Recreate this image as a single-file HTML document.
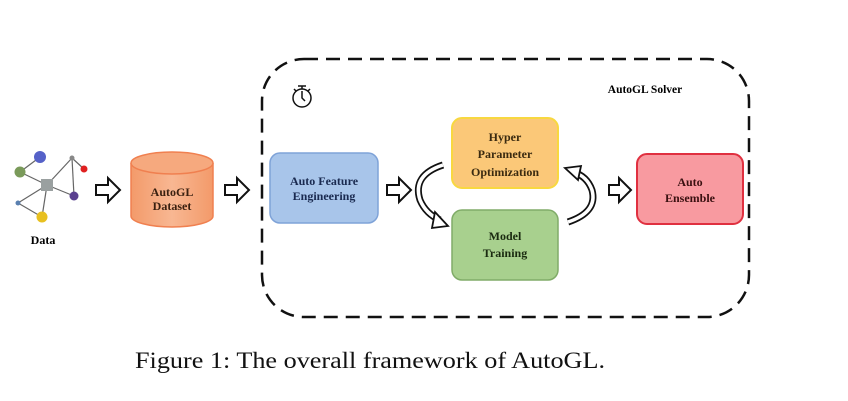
<!DOCTYPE html>
<html><head><meta charset="utf-8"><style>html,body{margin:0;padding:0;background:#fff}svg{display:block}</style></head>
<body>
<svg width="848" height="401" viewBox="0 0 848 401" xmlns="http://www.w3.org/2000/svg">
<defs>
<linearGradient id="cyl" x1="0" x2="1"><stop offset="0" stop-color="#f39a6a"/><stop offset="0.5" stop-color="#f8b792"/><stop offset="1" stop-color="#f39a6a"/></linearGradient>
</defs>
<!-- graph -->
<g stroke="#666" stroke-width="1.2">
<line x1="47" y1="185" x2="72" y2="158"/><line x1="47" y1="185" x2="74" y2="196"/><line x1="47" y1="185" x2="18" y2="203"/><line x1="47" y1="185" x2="42" y2="217"/>
<line x1="72" y1="158" x2="84" y2="169"/><line x1="72" y1="158" x2="74" y2="196"/><line x1="18" y1="203" x2="42" y2="217"/><line x1="20" y1="172" x2="40" y2="157"/><line x1="20" y1="172" x2="47" y2="185"/>
</g>
<rect x="41" y="179" width="12" height="12" fill="#9aa0a0"/>
<circle cx="40" cy="157" r="6" fill="#5561c8"/>
<circle cx="20" cy="172" r="5.5" fill="#7a9a5a"/>
<circle cx="72" cy="158" r="2.5" fill="#888"/>
<circle cx="84" cy="169" r="3.5" fill="#e02020"/>
<circle cx="74" cy="196" r="4.5" fill="#5a4090"/>
<circle cx="18" cy="203" r="2.5" fill="#5a80b0"/>
<circle cx="42" cy="217" r="5.5" fill="#e8c020"/>
<text x="43" y="244" font-family="Liberation Serif" font-weight="bold" font-size="12" text-anchor="middle">Data</text>
<!-- hollow arrows -->
<g fill="#fff" stroke="#111" stroke-width="2">
<path d="M96,185 h12 v-7 l12,12 l-12,12 v-7 h-12 z"/>
<path d="M225,185 h12 v-7 l12,12 l-12,12 v-7 h-12 z"/>
<path d="M387,185 h12 v-7 l12,12 l-12,12 v-7 h-12 z"/>
<path d="M609,185 h10 v-7 l12,12 l-12,12 v-7 h-10 z"/>
</g>
<!-- cylinder -->
<path d="M131,163 v53 a41,11 0 0 0 82,0 v-53" fill="url(#cyl)" stroke="#f08050" stroke-width="1.5"/>
<ellipse cx="172" cy="163" rx="41" ry="11" fill="#f6a97e" stroke="#f08050" stroke-width="1.5"/>
<text font-family="Liberation Serif" font-weight="bold" font-size="12" text-anchor="middle" fill="#3a2010"><tspan x="172" y="196">AutoGL</tspan><tspan x="172" y="210">Dataset</tspan></text>
<!-- dashed solver -->
<rect x="262" y="59" width="487" height="258" rx="42" fill="none" stroke="#111" stroke-width="2.5" stroke-dasharray="14,8"/>
<g stroke="#111" stroke-width="1.5" fill="none"><circle cx="302" cy="98" r="9"/><path d="M302,91 v7 l3,3"/><path d="M298,86 h8 M302,86 v3"/><path d="M294,89 l2,2 M310,89 l-2,2"/></g>
<text x="645" y="93" font-family="Liberation Serif" font-weight="bold" font-size="11.5" text-anchor="middle">AutoGL Solver</text>
<!-- boxes -->
<rect x="270" y="153" width="108" height="70" rx="10" fill="#a8c5ea" stroke="#7fa3d8" stroke-width="1.5"/>
<text font-family="Liberation Serif" font-weight="bold" font-size="12" text-anchor="middle" fill="#1a2a50"><tspan x="324" y="185">Auto Feature</tspan><tspan x="324" y="200">Engineering</tspan></text>
<rect x="452" y="118" width="106" height="70" rx="10" fill="#fbc878" stroke="#f8d840" stroke-width="2"/>
<text font-family="Liberation Serif" font-weight="bold" font-size="12" text-anchor="middle" fill="#3a2a10"><tspan x="505" y="141">Hyper</tspan><tspan x="505" y="158">Parameter</tspan><tspan x="505" y="176">Optimization</tspan></text>
<rect x="452" y="210" width="106" height="70" rx="10" fill="#a8d08e" stroke="#80ac68" stroke-width="1.5"/>
<text font-family="Liberation Serif" font-weight="bold" font-size="12" text-anchor="middle" fill="#1a2a10"><tspan x="505" y="240">Model</tspan><tspan x="505" y="257">Training</tspan></text>
<rect x="637" y="154" width="106" height="70" rx="10" fill="#f89aa0" stroke="#e03040" stroke-width="2"/>
<text font-family="Liberation Serif" font-weight="bold" font-size="12" text-anchor="middle" fill="#3a1010"><tspan x="690" y="186">Auto</tspan><tspan x="690" y="202">Ensemble</tspan></text>
<!-- curved arrows -->
<g fill="none" stroke-linecap="butt">
<path d="M443,165 Q412,175 420,200 Q426,214 440,220" stroke="#111" stroke-width="7"/>
<path d="M443,165 Q412,175 420,200 Q426,214 440,220" stroke="#fff" stroke-width="3.5"/>
<path d="M568,222 Q598,212 592,190 Q587,176 573,172" stroke="#111" stroke-width="7"/>
<path d="M568,222 Q598,212 592,190 Q587,176 573,172" stroke="#fff" stroke-width="3.5"/>
</g>
<path d="M435,212 l13,14 l-16,2 z" fill="#fff" stroke="#111" stroke-width="1.8"/>
<path d="M578,180 l-13,-12 l16,-2 z" fill="#fff" stroke="#111" stroke-width="1.8"/>
<!-- caption -->
<text x="135" y="368" font-family="Liberation Serif" font-size="23" textLength="470" lengthAdjust="spacingAndGlyphs" fill="#111">Figure 1: The overall framework of AutoGL.</text>
</svg>
</body></html>
